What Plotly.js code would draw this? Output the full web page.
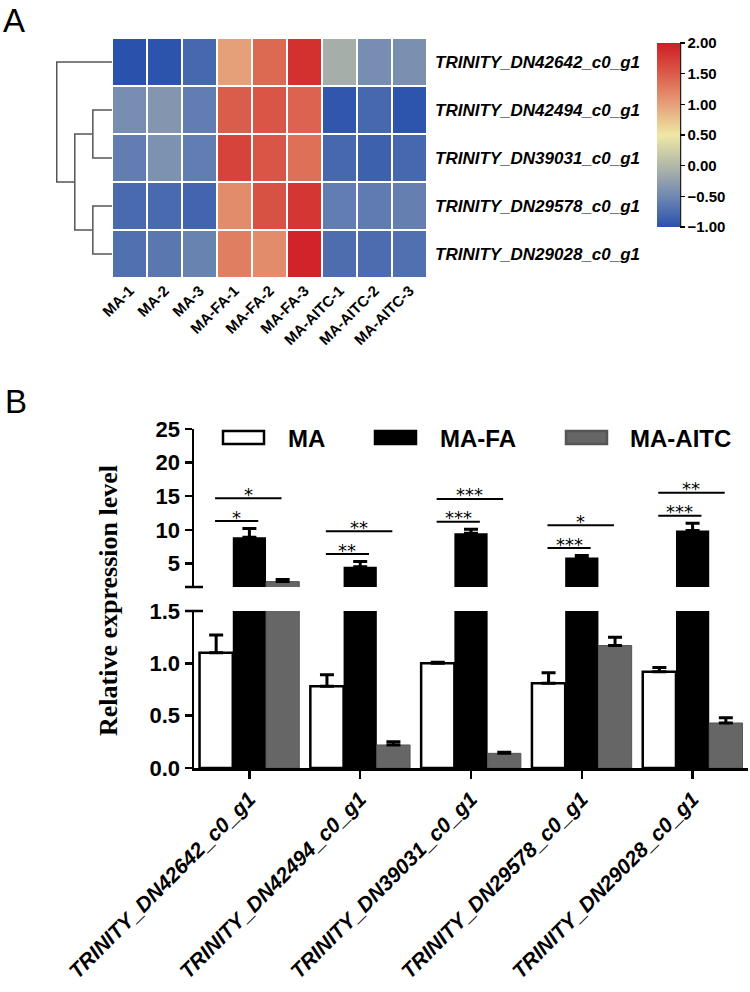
<!DOCTYPE html>
<html><head><meta charset="utf-8">
<script src="https://cdn.plot.ly/plotly-3.0.1.min.js"></script>
<style>html,body{margin:0;padding:0;background:#fff}#chart{width:750px;height:992px}</style>
</head><body><div id="chart"></div>
<script>
// ---------- Panel A: heatmap data ----------
const samples = ['MA-1','MA-2','MA-3','MA-FA-1','MA-FA-2','MA-FA-3','MA-AITC-1','MA-AITC-2','MA-AITC-3'];
const genes = ['TRINITY_DN42642_c0_g1','TRINITY_DN42494_c0_g1','TRINITY_DN39031_c0_g1','TRINITY_DN29578_c0_g1','TRINITY_DN29028_c0_g1'];
const zDN42642 = [-1.00,-0.98,-0.80, 1.00, 1.40, 1.85,-0.10,-0.45,-0.42];
const zDN42494 = [-0.45,-0.35,-0.60, 1.50, 1.55, 1.45,-0.95,-0.80,-0.97];
const zDN39031 = [-0.60,-0.40,-0.60, 1.70, 1.55, 1.35,-0.80,-0.86,-0.80];
const zDN29578 = [-0.78,-0.78,-0.82, 1.15, 1.58, 1.80,-0.60,-0.62,-0.58];
const zDN29028 = [-0.72,-0.66,-0.55, 1.25, 1.15, 1.95,-0.75,-0.76,-0.72];
const colorTicks = [-1,-0.5,0,0.5,1,1.5,2];

// dendrogram linkage (leaves 0..4 are the gene rows, new clusters numbered 5..)
const linkLeft   = [1, 3, 5, 0];
const linkRight  = [2, 4, 6, 7];
const linkHeight = [1.04, 1.04, 2.02, 3.0];

// ---------- Panel B: bar data ----------
const seriesNames = ['MA','MA-FA','MA-AITC'];
const maVals   = [1.10, 0.78, 1.00, 0.81, 0.92];
const maErr    = [0.17, 0.11, 0.01, 0.10, 0.04];
const faVals   = [8.9, 4.5, 9.5, 5.9, 9.9];
const faErr    = [1.3, 0.8, 0.6, 0.3, 1.1];
const aitcVals = [2.3, 0.22, 0.14, 1.17, 0.43];
const aitcErr  = [0.3, 0.03, 0.01, 0.08, 0.05];
const sigFA    = ['*','**','***','***','***'];   // MA vs MA-FA
const sigAITC  = ['*','**','***','*','**'];     // MA vs MA-AITC
const lowerTicks = [0, 0.5, 1.0, 1.5];
const upperTicks = [5, 10, 15, 20, 25];

// ---------- helpers ----------
const W = 750, H = 992;
const px = v => v / W;
const py = v => 1 - v / H;
const SANS = 'Liberation Sans, Arial, sans-serif';
const SERIF = 'Liberation Serif, Times New Roman, serif';

const zRows = [zDN42642, zDN42494, zDN39031, zDN29578, zDN29028];
const rowIdx = genes.map((g, i) => i);

// dendrogram lines
const nodeY = rowIdx.slice(), nodeH = rowIdx.map(() => 0);
const dx = [], dy = [];
linkLeft.forEach((a, k) => {
  const b = linkRight[k], h = linkHeight[k];
  dx.push(nodeH[a], h, h, nodeH[b], null);
  dy.push(nodeY[a], nodeY[a], nodeY[b], nodeY[b], null);
  nodeY.push((nodeY[a] + nodeY[b]) / 2);
  nodeH.push(h);
});

const heat = {
  type: 'heatmap', x: samples.map((s, i) => i), y: rowIdx, z: zRows,
  xaxis: 'x', yaxis: 'y', zmin: -1, zmax: 2, xgap: 2, ygap: 2,
  colorscale: [[0,'#2a52ad'],[0.1667,'#7088b2'],[0.3333,'#b3b8a8'],[0.5,'#eee8a6'],
               [0.6667,'#e6a079'],[0.8333,'#da5c4a'],[1,'#d01d25']],
  colorbar: {x: px(657), xanchor: 'left', xpad: 0, y: py(135), yanchor: 'middle', ypad: 0,
    len: 184, lenmode: 'pixels', thickness: 23, thicknessmode: 'pixels', outlinewidth: 0,
    tickvals: colorTicks, tickformat: '.2f', ticks: 'outside', ticklen: 5, tickwidth: 1.5,
    tickcolor: '#000', tickfont: {family: SANS, size: 15, color: '#000', weight: 'bold'}},
  hoverinfo: 'skip'
};
const dendro = {type: 'scatter', mode: 'lines', x: dx, y: dy, xaxis: 'x3', yaxis: 'y4',
  line: {color: '#555', width: 1.5}, showlegend: false, hoverinfo: 'skip'};

const xs = genes.map((g, i) => i);
const zeros = xs.map(() => 0);
const seriesVals = [maVals, faVals, aitcVals];
const seriesErr = [maErr, faErr, aitcErr];
const seriesMarker = [
  {color: '#ffffff', line: {color: '#000', width: 2.5}},
  {color: '#000000', line: {color: '#000', width: 0}},
  {color: '#666666', line: {color: '#555', width: 1}}
];
const bars = [];
['y2','y3'].forEach(ya => {
  seriesNames.forEach((n, s) => {
    bars.push({type: 'bar', name: n, x: xs, y: seriesVals[s], xaxis: 'x2', yaxis: ya,
      offsetgroup: String(s), marker: seriesMarker[s], showlegend: false, hoverinfo: 'skip',
      error_y: {type: 'data', symmetric: false, array: seriesErr[s], arrayminus: zeros,
        color: '#000', thickness: 3, width: 7}});
  });
});

// significance lines and stars
const shapes = [], annotations = [];
xs.forEach(i => {
  const low = faVals[i] + faErr[i] + 1.1;
  const up = low + 3.4;
  [[low, i + 0.08, sigFA[i]], [up, i + 0.29, sigAITC[i]]].forEach(([yv, xe, lab]) => {
    const x0 = i - 0.31;
    shapes.push({type: 'line', xref: 'x2', yref: 'y3', x0: x0, x1: xe, y0: yv, y1: yv,
      line: {color: '#000', width: 2}});
    annotations.push({xref: 'x2', yref: 'y3', x: (x0 + xe) / 2, y: yv, text: lab,
      showarrow: false, yanchor: 'middle', yshift: 4,
      font: {family: 'DejaVu Sans, sans-serif', size: 18, color: '#000'}});
  });
});

// axis break marks
const yAxisX = 194;
[587, 611].forEach(v => shapes.push({type: 'line', xref: 'paper', yref: 'paper',
  x0: px(yAxisX - 9), x1: px(yAxisX + 9), y0: py(v), y1: py(v), line: {color: '#000', width: 2.5}}));
// colorbar axis line
shapes.push({type: 'line', xref: 'paper', yref: 'paper', x0: px(680.5), x1: px(680.5),
  y0: py(43), y1: py(227), line: {color: '#222', width: 1.5}});

// custom legend
const legBoxX = [223, 375, 566], legTextX = [286, 438, 628];
const legFill = ['#ffffff', '#000000', '#666666'], legLine = ['#000', '#000', '#555'];
seriesNames.forEach((n, s) => {
  shapes.push({type: 'rect', xref: 'paper', yref: 'paper', x0: px(legBoxX[s]), x1: px(legBoxX[s] + 41),
    y0: py(444), y1: py(431), fillcolor: legFill[s], line: {color: legLine[s], width: 2.5}});
  annotations.push({xref: 'paper', yref: 'paper', x: px(legTextX[s]), y: py(438), text: '<b>' + n + '</b>',
    showarrow: false, xanchor: 'left', yanchor: 'middle', font: {family: SANS, size: 24, color: '#000'}});
});

// axis title and panel letters
annotations.push({xref: 'paper', yref: 'paper', x: px(108), y: py(600), text: '<b>Relative expression level</b>',
  textangle: -90, showarrow: false, xanchor: 'center', yanchor: 'middle',
  font: {family: SERIF, size: 26, color: '#000'}});
annotations.push({xref: 'paper', yref: 'paper', x: px(1), y: py(0), text: 'A', showarrow: false,
  xanchor: 'left', yanchor: 'top', font: {family: SANS, size: 33, color: '#000'}});
annotations.push({xref: 'paper', yref: 'paper', x: px(3), y: py(381), text: 'B', showarrow: false,
  xanchor: 'left', yanchor: 'top', font: {family: SANS, size: 33, color: '#000'}});

const barTickFont = {family: SANS, size: 22, color: '#000', weight: 'bold'};
const layout = {
  width: W, height: H, margin: {l: 0, r: 0, t: 0, b: 0}, paper_bgcolor: '#fff', plot_bgcolor: 'rgba(0,0,0,0)',
  showlegend: false, barmode: 'group', bargap: 0.1, bargroupgap: 0,
  xaxis: {domain: [px(112), px(427)], range: [-0.5, 8.5], anchor: 'y', tickvals: samples.map((s, i) => i),
    ticktext: samples, tickangle: -45, ticks: '', showgrid: false, zeroline: false, showline: false,
    automargin: false, tickfont: {family: SANS, size: 15, color: '#000', weight: 'bold'}},
  yaxis: {domain: [py(278), py(38)], range: [4.5, -0.5], anchor: 'x', side: 'right', tickvals: rowIdx,
    ticktext: genes, ticks: '', showgrid: false, zeroline: false, showline: false, automargin: false,
    ticklabelstandoff: 7, tickfont: {family: SANS, size: 17, color: '#000', weight: 'bold', style: 'italic'}},
  xaxis3: {domain: [px(56), px(112)], range: [3.04, 0], anchor: 'y4', visible: false},
  yaxis4: {domain: [py(278), py(38)], range: [4.5, -0.5], anchor: 'x3', visible: false},
  xaxis2: {domain: [px(194), px(748)], range: [-0.5, 4.5], anchor: 'y2', tickvals: xs, ticktext: genes,
    tickangle: -45, ticks: 'outside', ticklen: 8, tickwidth: 2.5, tickcolor: '#000', showline: true,
    linecolor: '#000', linewidth: 2.5, showgrid: false, zeroline: false, automargin: false,
    tickfont: {family: SANS, size: 21, color: '#000', weight: 'bold', style: 'italic'}},
  yaxis2: {domain: [py(768), py(611)], range: [0, 1.5], anchor: 'x2', tickvals: lowerTicks, tickformat: '.1f',
    ticks: 'outside', ticklen: 7, tickwidth: 2.5, tickcolor: '#000', showline: true, linecolor: '#000',
    linewidth: 2.5, showgrid: false, zeroline: false, automargin: false, tickfont: barTickFont},
  yaxis3: {domain: [py(587), py(429)], range: [1.5, 25], anchor: 'x2', tickvals: upperTicks,
    ticks: 'outside', ticklen: 7, tickwidth: 2.5, tickcolor: '#000', showline: true, linecolor: '#000',
    linewidth: 2.5, showgrid: false, zeroline: false, automargin: false, tickfont: barTickFont},
  shapes: shapes, annotations: annotations
};
Plotly.newPlot('chart', [heat, dendro].concat(bars), layout, {staticPlot: true, displayModeBar: false});
</script></body></html>
